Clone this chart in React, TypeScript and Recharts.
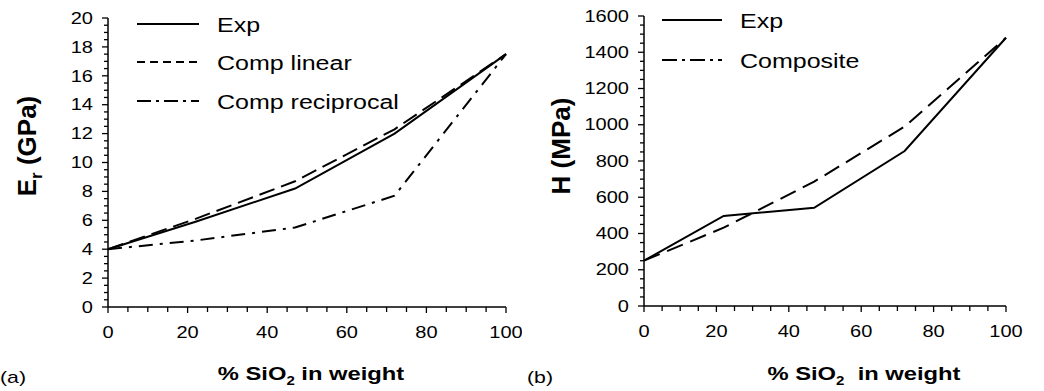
import React from "react";
import { LineChart, Line, XAxis, YAxis, Legend } from "recharts";

// ---- data ----
const sio2Weight = [0, 22, 47, 72, 100];
const erExp = [4.0, 5.9, 8.2, 12.0, 17.5];
const erCompLinear = [4.0, 6.1, 8.7, 12.3, 17.5];
const erCompReciprocal = [4.0, 4.6, 5.5, 7.7, 17.5];
const hExp = [250, 497, 542, 855, 1480];
const hComposite = [250, 432, 686, 990, 1480];

const xTicks = [0, 5, 10, 15, 20, 25, 30, 35, 40, 45, 50, 55, 60, 65, 70, 75, 80, 85, 90, 95, 100];
const erTicks = Array.from({ length: 41 }, (_, i) => i * 0.5);
const hTicks = Array.from({ length: 33 }, (_, i) => i * 50);

const erData = sio2Weight.map((x, i) => ({
  x,
  exp: erExp[i],
  lin: erCompLinear[i],
  rec: erCompReciprocal[i],
}));
const hData = sio2Weight.map((x, i) => ({ x, exp: hExp[i], comp: hComposite[i] }));

const FONT = '"Liberation Sans", Arial, Helvetica, sans-serif';
const SX = 1.25;

const ScaledText = ({ x, y, anchor = "start", size, weight = "normal", children }: any) => (
  <text
    transform={`translate(${x},${y}) scale(${SX},1)`}
    textAnchor={anchor}
    fontSize={size}
    fontWeight={weight}
    fontFamily={FONT}
    fill="#000"
  >
    {children}
  </text>
);

const XTick = (props: any) => {
  const { x, y, payload } = props;
  const v = payload.value;
  const major = v % 20 === 0;
  return (
    <g>
      <line x1={x} x2={x} y1={y} y2={y + (major ? 6 : 5)} stroke="#000" strokeWidth={1.3} />
      {major && (
        <ScaledText x={x} y={y + 31} anchor="middle" size={16}>
          {v}
        </ScaledText>
      )}
    </g>
  );
};

const makeYTick = (majorStep: number) => (props: any) => {
  const { x, y, payload } = props;
  const v = payload.value;
  const major = Math.abs(v / majorStep - Math.round(v / majorStep)) < 1e-6;
  return (
    <g>
      <line x1={x - (major ? 6 : 4)} x2={x} y1={y} y2={y} stroke="#000" strokeWidth={1.3} />
      {major && (
        <ScaledText x={x - 15} y={y + 5.7} anchor="end" size={16}>
          {v}
        </ScaledText>
      )}
    </g>
  );
};
const ErTick = makeYTick(2);
const HTick = makeYTick(200);

const XTitle = ({ cx, panel, gap }: any) => (
  <g>
    <text
      transform={`translate(${cx},380) scale(${SX},1)`}
      textAnchor="middle"
      fontSize={19}
      fontWeight="bold"
      fontFamily={FONT}
      fill="#000"
    >
      <tspan>% SiO</tspan>
      <tspan fontSize={12} dy={5}>2</tspan>
      <tspan dy={-5}>{gap + "in weight"}</tspan>
    </text>
    <ScaledText x={panel.x} y={383} size={17}>
      {panel.t}
    </ScaledText>
  </g>
);

const YTitle = ({ cx, cy, main, sub, rest }: any) => (
  <text
    transform={`translate(${cx},${cy}) rotate(-90)`}
    textAnchor="middle"
    fontSize={26}
    fontWeight="bold"
    fontFamily={FONT}
    fill="#000"
  >
    <tspan>{main}</tspan>
    {sub && (
      <tspan fontSize={17} dy={6}>
        {sub}
      </tspan>
    )}
    <tspan dy={sub ? -6 : 0}>{rest}</tspan>
  </text>
);

const LegendBox = ({ items, lineX1, lineX2, textX, rowYs }: any) => (
  <svg width={400} height={130} style={{ display: "block", overflow: "visible" }}>
    {items.map((it: any, i: number) => (
      <g key={it.label}>
        <line
          x1={lineX1}
          x2={lineX2}
          y1={rowYs[i]}
          y2={rowYs[i]}
          stroke="#000"
          strokeWidth={2}
          strokeDasharray={it.dash}
        />
        <ScaledText x={textX} y={rowYs[i] + 7.5} size={20}>
          {it.label}
        </ScaledText>
      </g>
    ))}
  </svg>
);

const leftLegendItems = [
  { label: "Exp", dash: undefined },
  { label: "Comp linear", dash: "8 5" },
  { label: "Comp reciprocal", dash: "14 5 3 5" },
];
const rightLegendItems = [
  { label: "Exp", dash: undefined },
  { label: "Composite", dash: "15 5 3 5" },
];

export default function App() {
  return (
    <div
      style={{
        position: "fixed",
        left: 0,
        top: 0,
        width: 1044,
        height: 391,
        background: "#fff",
      }}
    >
      <div style={{ position: "absolute", left: 0, top: 0 }}>
        <LineChart width={522} height={391} data={erData} margin={{ top: 18, right: 16, bottom: 0, left: 0 }}>
          <XAxis
            dataKey="x"
            type="number"
            domain={[0, 100]}
            ticks={xTicks}
            interval={0}
            height={84}
            tickSize={0}
            tickMargin={0}
            tickLine={false}
            axisLine={{ stroke: "#000", strokeWidth: 1.5 }}
            tick={<XTick />}
            label={<XTitle cx={311} panel={{ x: 0, t: "(a)" }} gap=" " />}
          />
          <YAxis
            type="number"
            domain={[0, 20]}
            ticks={erTicks}
            interval={0}
            width={108}
            tickSize={0}
            tickMargin={0}
            tickLine={false}
            axisLine={{ stroke: "#000", strokeWidth: 1.5 }}
            tick={<ErTick />}
            label={<YTitle cx={36} cy={146} main="E" sub="r" rest={"\u00a0(GPa)"} />}
          />
          <Legend
            layout="vertical"
            align="center"
            verticalAlign="middle"
            wrapperStyle={{ left: 0, top: 0, width: 400, height: 130 }}
            content={() => (
              <LegendBox items={leftLegendItems} lineX1={137} lineX2={199} textX={217} rowYs={[24, 62, 101]} />
            )}
          />
          <Line type="linear" dataKey="exp" name="Exp" stroke="#000" strokeWidth={2} dot={false} isAnimationActive={false} />
          <Line type="linear" dataKey="lin" name="Comp linear" stroke="#000" strokeWidth={2} strokeDasharray="16 7" dot={false} isAnimationActive={false} />
          <Line type="linear" dataKey="rec" name="Comp reciprocal" stroke="#000" strokeWidth={2} strokeDasharray="14 7 3 7" dot={false} isAnimationActive={false} />
        </LineChart>
      </div>
      <div style={{ position: "absolute", left: 522, top: 0 }}>
        <LineChart width={522} height={391} data={hData} margin={{ top: 16, right: 38, bottom: 0, left: 0 }}>
          <XAxis
            dataKey="x"
            type="number"
            domain={[0, 100]}
            ticks={xTicks}
            interval={0}
            height={85}
            tickSize={0}
            tickMargin={0}
            tickLine={false}
            axisLine={{ stroke: "#000", strokeWidth: 1.5 }}
            tick={<XTick />}
            label={<XTitle cx={342} panel={{ x: 5, t: "(b)" }} gap={"\u00a0\u00a0"} />}
          />
          <YAxis
            type="number"
            domain={[0, 1600]}
            ticks={hTicks}
            interval={0}
            width={122}
            tickSize={0}
            tickMargin={0}
            tickLine={false}
            axisLine={{ stroke: "#000", strokeWidth: 1.5 }}
            tick={<HTick />}
            label={<YTitle cx={48} cy={146} main={"H\u00a0(MPa)"} rest="" />}
          />
          <Legend
            layout="vertical"
            align="center"
            verticalAlign="middle"
            wrapperStyle={{ left: 0, top: 0, width: 400, height: 130 }}
            content={() => (
              <LegendBox items={rightLegendItems} lineX1={140} lineX2={200} textX={218} rowYs={[20, 60]} />
            )}
          />
          <Line type="linear" dataKey="exp" name="Exp" stroke="#000" strokeWidth={2} dot={false} isAnimationActive={false} />
          <Line type="linear" dataKey="comp" name="Composite" stroke="#000" strokeWidth={2} strokeDasharray="17 8" dot={false} isAnimationActive={false} />
        </LineChart>
      </div>
    </div>
  );
}
